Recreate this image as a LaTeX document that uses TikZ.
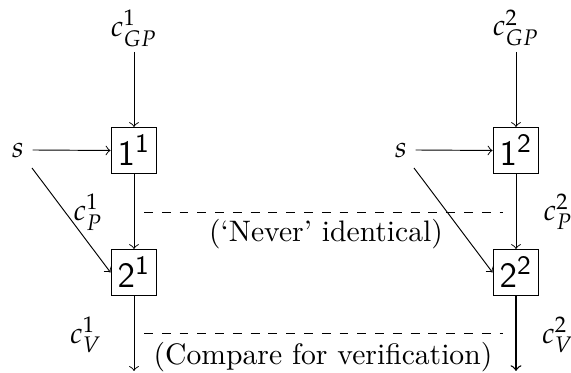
\documentclass[tikz,border=0pt]{standalone}
\usepackage{mathpazo}
\begin{document}
\begin{tikzpicture}[x=0.3375pt,y=-0.3375pt,line width=0.32pt,
  box/.style={draw,minimum size=15.5pt,inner sep=1pt,font=\large},
  lbl/.style={inner sep=0pt},
  arr/.style={->},
  dash line/.style={dashed}]
\useasboundingbox (0,0) rectangle (571,373);
% column 1
\node[lbl] (g1) at (134,28) {$c^1_{GP}$};
\node[box] (b11) at (134,150.5) {$\mathsf{1}^{\mathsf{1}}$};
\node[box] (b21) at (134,272.5) {$\mathsf{2}^{\mathsf{1}}$};
\node[lbl] (s1) at (18,150) {$s$};
\node[lbl] (p1) at (88,212) {$c^1_P$};
\node[lbl] (v1) at (86,335) {$c^1_V$};
\coordinate (e1) at (134,371);
\draw[arr] (g1.south |- 0,52) -- (b11.north);
\draw[arr] (s1.east) ++(8,0) -- (b11.west);
\draw[arr] (32,168) -- (b21.west);
\draw[arr] (b11.south) -- (b21.north);
\draw[arr] (b21.south) -- (e1);
% column 2
\node[lbl] (g2) at (516,28) {$c^2_{GP}$};
\node[box] (b12) at (516,150.5) {$\mathsf{1}^{\mathsf{2}}$};
\node[box] (b22) at (516,272.5) {$\mathsf{2}^{\mathsf{2}}$};
\node[lbl] (s2) at (401,150) {$s$};
\node[lbl] (p2) at (558,212) {$c^2_P$};
\node[lbl] (v2) at (558,335) {$c^2_V$};
\coordinate (e2) at (516,371);
\draw[arr] (g2.south |- 0,52) -- (b12.north);
\draw[arr] (s2.east) ++(8,0) -- (b12.west);
\draw[arr] (414,168) -- (b22.west);
\draw[arr] (b12.south) -- (b22.north);
\draw[arr,line width=0.45pt] (b22.south) -- (e2);
% dashed comparisons
\coordinate (d1a) at (144,212);
\coordinate (d1b) at (503,212);
\coordinate (d2a) at (144,333);
\coordinate (d2b) at (503,333);
\draw[dash line] (d1a) -- (d1b);
\draw[dash line] (d2a) -- (d2b);
\node[lbl] (n1) at (326,234) {(`Never' identical)};
\node[lbl] (n2) at (323,357) {(Compare for verification)};
\end{tikzpicture}
\end{document}
